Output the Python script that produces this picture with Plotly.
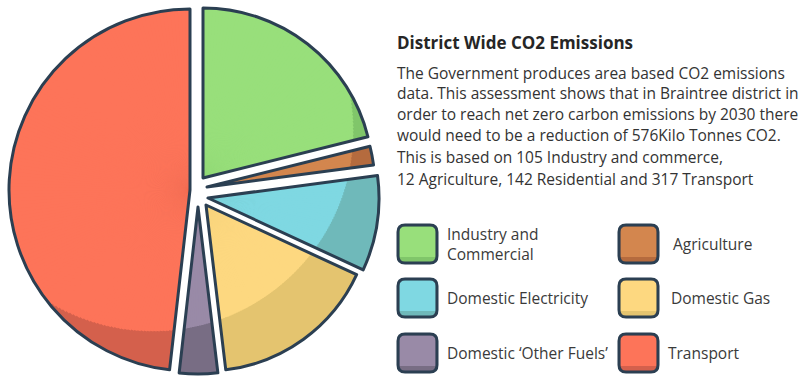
import math
import plotly.graph_objects as go

W, H = 811, 381

# ---- data (shares, clockwise from 12 o'clock) ----
categories = ["Industry and Commercial", "Agriculture", "Domestic Electricity",
              "Domestic Gas", "Domestic ‘Other Fuels’", "Transport"]
shares = [21.1, 1.8, 9.0, 16.2, 3.7, 48.2]

legend_lines = [["Industry and", "Commercial"], ["Agriculture"], ["Domestic Electricity"],
                ["Domestic Gas"], ["Domestic ‘Other Fuels’"], ["Transport"]]

title_text = "District Wide CO2 Emissions"
body_lines = ["The Government produces area based CO2 emissions",
              "data. This assessment shows that in Braintree district in",
              "order to reach net zero carbon emissions by 2030 there",
              "would need to be a reduction of 576Kilo Tonnes CO2."]
body_lines2 = ["This is based on 105 Industry and commerce,",
               "12 Agriculture, 142 Residential and 317 Transport"]

# ---- styles ----
light_colors = ["#98df7b", "#d3864e", "#7fd8e2", "#fdd880", "#998aa7", "#fd7459"]
shade_colors = ["#80c66a", "#b56b3e", "#6fb9ba", "#e4c46f", "#786d84", "#d4604c"]
OUTLINE = "#2b3f52"
TRANSPARENT = "rgba(0,0,0,0)"
FONT = "Open Sans"

# exploded placement of each slice (apex in px, radius in px)
apex = [(203, 178), (207, 187), (208, 198), (206, 205), (198, 207), (190, 190)]
radius = [170, 168, 171, 166, 167, 181]
# highlight circle (lighter area inside it)
HL_C = (153, 131)
HL_R = 200


def dom(cx, cy, r):
    return dict(x=[(cx - r) / W, (cx + r) / W], y=[1 - (cy + r) / H, 1 - (cy - r) / H])


def pie(values, colors, domain, lw=None, lc=None):
    line = dict(width=lw if lw is not None else 0, color=lc if lc is not None else TRANSPARENT)
    return go.Pie(values=values, sort=False, direction="clockwise", rotation=0,
                  domain=domain, marker=dict(colors=colors, line=line),
                  textinfo="none", hoverinfo="skip", showlegend=False)


fig = go.Figure()
n = len(shares)
total = sum(shares)

# base layer: shaded colour of each slice
for s in range(n):
    cols = [shade_colors[i] if i == s else TRANSPARENT for i in range(n)]
    fig.add_trace(pie(shares, cols, dom(apex[s][0], apex[s][1], radius[s])))

# light layer: thin sub-sectors clipped by the highlight circle
cum = 0.0
for s in range(n):
    c0, w = cum, shares[s]
    cum += w
    deg = w / total * 360
    nb = max(1, int(math.ceil(deg / 1.2)))
    ax, ay = apex[s]
    for j in range(nb):
        b0 = c0 + w * j / nb
        b1 = c0 + w * (j + 1) / nb
        th = math.radians((b0 + b1) / 2 / total * 360)
        dx, dy = math.sin(th), -math.cos(th)
        fx, fy = ax - HL_C[0], ay - HL_C[1]
        b = fx * dx + fy * dy
        c = fx * fx + fy * fy - HL_R ** 2
        disc = b * b - c
        t = -b + math.sqrt(disc) if disc > 0 else 0
        r = min(radius[s], t)
        if r < 2:
            continue
        eps = w / nb * 0.3
        e0 = max(c0, b0 - eps)
        e1 = min(c0 + w, b1 + eps)
        if e0 <= 1e-9:
            vals = [e1 - e0, total - e1]
            cols = [light_colors[s], TRANSPARENT]
        else:
            vals = [e0, e1 - e0, total - e1]
            cols = [TRANSPARENT, light_colors[s], TRANSPARENT]
        fig.add_trace(pie(vals, cols, dom(ax, ay, r)))

# outline layer
for s in range(n):
    cols = [TRANSPARENT] * n
    lws = [3 if i == s else 0 for i in range(n)]
    lcs = [OUTLINE if i == s else TRANSPARENT for i in range(n)]
    fig.add_trace(pie(shares, cols, dom(apex[s][0], apex[s][1], radius[s]), lws, lcs))


def px(x):
    return x / W


def py(y):
    return 1 - y / H


def rrect(x0, y0, x1, y1, r):
    pts = [
        f"M {px(x0 + r)},{py(y0)}", f"L {px(x1 - r)},{py(y0)}",
        f"Q {px(x1)},{py(y0)} {px(x1)},{py(y0 + r)}", f"L {px(x1)},{py(y1 - r)}",
        f"Q {px(x1)},{py(y1)} {px(x1 - r)},{py(y1)}", f"L {px(x0 + r)},{py(y1)}",
        f"Q {px(x0)},{py(y1)} {px(x0)},{py(y1 - r)}", f"L {px(x0)},{py(y0 + r)}",
        f"Q {px(x0)},{py(y0)} {px(x0 + r)},{py(y0)}", "Z"]
    return " ".join(pts)


shapes = []
annotations = []

# legend boxes
box_x = [398, 619]
box_y = [225, 279, 334]
text_x = [[445, 671], [445, 669], [445, 666]]
for k in range(n):
    row, col = k // 2, k % 2
    x0, y0 = box_x[col], box_y[row]
    x1, y1 = x0 + 39, y0 + 38
    shapes.append(dict(type="path", xref="paper", yref="paper", path=rrect(x0, y0, x1, y1, 7),
                       fillcolor=shade_colors[k], line=dict(width=0)))
    shapes.append(dict(type="rect", xref="paper", yref="paper", x0=px(x0 + 1.5), x1=px(x1 - 1.5),
                       y0=py(y0 + 1.5), y1=py(y1 - 6), fillcolor=light_colors[k], line=dict(width=0)))
    shapes.append(dict(type="path", xref="paper", yref="paper", path=rrect(x0, y0, x1, y1, 7),
                       fillcolor=TRANSPARENT, line=dict(width=3, color=OUTLINE)))
    lines = legend_lines[k]
    cy = (y0 + y1) / 2
    for li, txt in enumerate(lines):
        yy = cy + (li - (len(lines) - 1) / 2) * 20
        annotations.append(dict(x=px(text_x[row][col]), y=py(yy), xref="paper", yref="paper",
                                text=txt, showarrow=False, xanchor="left", yanchor="middle",
                                font=dict(family=FONT, size=15.5, color="#3a3a3a")))

annotations.append(dict(x=px(395), y=py(42), xref="paper", yref="paper",
                        text=f"<b>{title_text}</b>", showarrow=False, xanchor="left",
                        yanchor="middle", font=dict(family=FONT, size=17, color="#262626")))
for i, t in enumerate(body_lines):
    annotations.append(dict(x=px(395), y=py(73 + 20.5 * i), xref="paper", yref="paper",
                            text=t, showarrow=False, xanchor="left", yanchor="middle",
                            font=dict(family=FONT, size=15.5, color="#333333")))
for i, t in enumerate(body_lines2):
    annotations.append(dict(x=px(395), y=py(157 + 22 * i), xref="paper", yref="paper",
                            text=t, showarrow=False, xanchor="left", yanchor="middle",
                            font=dict(family=FONT, size=15.5, color="#333333")))

fig.update_layout(width=W, height=H, margin=dict(l=0, r=0, t=0, b=0),
                  paper_bgcolor="white", plot_bgcolor="white", showlegend=False,
                  shapes=shapes, annotations=annotations)

fig.write_html("out.html", config={"displayModeBar": False},
               post_script="document.body.style.margin='0';document.body.style.overflow='hidden';")
